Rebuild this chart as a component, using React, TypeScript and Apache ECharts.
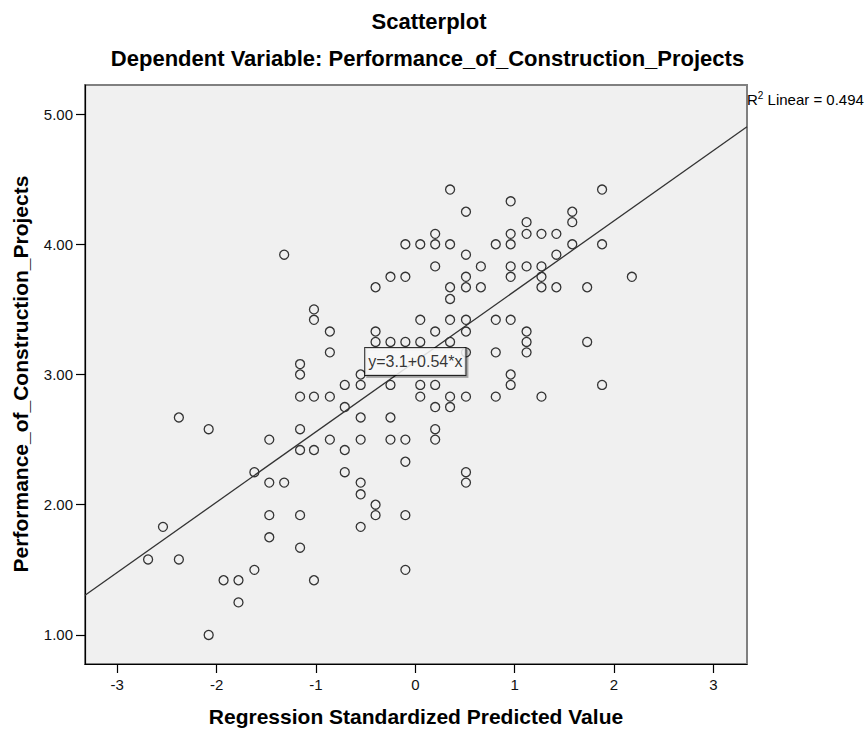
import React, { useEffect, useRef } from "react";
import * as echarts from "echarts";

// Regression standardized predicted value (x) and observed performance (y)
const predictedValue = [
  -2.69,
  -2.54,
  -2.38, -2.38,
  -2.08, -2.08,
  -1.93,
  -1.78, -1.78,
  -1.62, -1.62,
  -1.47, -1.47, -1.47, -1.47,
  -1.32, -1.32,
  -1.16, -1.16, -1.16, -1.16, -1.16, -1.16, -1.16,
  -1.02, -1.02, -1.02, -1.02, -1.02,
  -0.86, -0.86, -0.86, -0.86,
  -0.71, -0.71, -0.71, -0.71,
  -0.55, -0.55, -0.55, -0.55, -0.55, -0.55, -0.55,
  -0.40, -0.40, -0.40, -0.40, -0.40,
  -0.25, -0.25, -0.25, -0.25, -0.25,
  -0.10, -0.10, -0.10, -0.10, -0.10, -0.10, -0.10,
  0.05, 0.05, 0.05, 0.05, 0.05,
  0.20, 0.20, 0.20, 0.20, 0.20, 0.20, 0.20, 0.20,
  0.35, 0.35, 0.35, 0.35, 0.35, 0.35, 0.35, 0.35,
  0.51, 0.51, 0.51, 0.51, 0.51, 0.51, 0.51, 0.51, 0.51, 0.51,
  0.66, 0.66,
  0.81, 0.81, 0.81, 0.81,
  0.96, 0.96, 0.96, 0.96, 0.96, 0.96, 0.96, 0.96,
  1.12, 1.12, 1.12, 1.12, 1.12, 1.12,
  1.27, 1.27, 1.27, 1.27, 1.27,
  1.42, 1.42, 1.42,
  1.58, 1.58, 1.58,
  1.73, 1.73,
  1.88, 1.88, 1.88,
  2.18,
];

const performance = [
  1.58,
  1.83,
  2.67, 1.58,
  2.58, 1.0,
  1.42,
  1.42, 1.25,
  2.25, 1.5,
  2.5, 2.17, 1.92, 1.75,
  3.92, 2.17,
  3.08, 3.0, 2.83, 2.58, 2.42, 1.92, 1.67,
  3.5, 3.42, 2.83, 2.42, 1.42,
  3.33, 3.17, 2.83, 2.5,
  2.92, 2.75, 2.42, 2.25,
  3.0, 2.92, 2.67, 2.5, 2.17, 2.08, 1.83,
  3.67, 3.33, 3.25, 2.0, 1.92,
  3.75, 3.25, 2.92, 2.67, 2.5,
  4.0, 3.75, 3.25, 2.5, 2.33, 1.92, 1.5,
  4.0, 3.42, 3.25, 2.92, 2.83,
  4.08, 4.0, 3.83, 3.33, 2.92, 2.75, 2.58, 2.5,
  4.42, 4.0, 3.67, 3.58, 3.42, 3.25, 2.83, 2.75,
  4.25, 3.92, 3.75, 3.67, 3.42, 3.33, 3.17, 2.83, 2.25, 2.17,
  3.83, 3.67,
  4.0, 3.42, 3.17, 2.83,
  4.33, 4.08, 4.0, 3.83, 3.75, 3.42, 3.0, 2.92,
  4.17, 4.08, 3.83, 3.33, 3.25, 3.17,
  4.08, 3.83, 3.75, 3.67, 2.83,
  4.08, 3.92, 3.67,
  4.25, 4.17, 4.0,
  3.67, 3.25,
  4.42, 4.0, 2.92,
  3.75,
];

const xTicks = [-3, -2, -1, 0, 1, 2, 3];
const yTicks = [1, 2, 3, 4, 5];

const intercept = 3.1;
const slope = 0.54;
const rSquared = 0.494;

const xMin = -3.325;
const xMax = 3.339;
const yMin = 0.777;
const yMax = 5.223;

const FONT = '"Liberation Sans", Arial, Helvetica, sans-serif';

export default function App() {
  const ref = useRef<HTMLDivElement>(null);

  useEffect(() => {
    document.body.style.margin = "0";
    if (!ref.current) return;
    const chart = echarts.init(ref.current, undefined, { renderer: "svg" });

    const points = predictedValue.map((x, i) => [x, performance[i]]);
    const fitLine = [
      [xMin, intercept + slope * xMin],
      [xMax, intercept + slope * xMax],
    ];

    const option: any = {
      animation: false,
      textStyle: { fontFamily: FONT },
      grid: {
        left: 85,
        right: 121,
        top: 85,
        bottom: 71,
        show: true,
        backgroundColor: "#f0f0f0",
        borderColor: "#808080",
        borderWidth: 2,
      },
      xAxis: {
        type: "value",
        min: xMin,
        max: xMax,
        axisLine: { show: true, onZero: false, lineStyle: { color: "#000", width: 1.2 } },
        axisTick: {
          show: true,
          customValues: xTicks,
          length: 9,
          lineStyle: { color: "#000", width: 1.2 },
        },
        axisLabel: {
          customValues: xTicks,
          margin: 13,
          fontSize: 15,
          color: "#111",
          fontFamily: FONT,
          formatter: (v: number) => String(v),
        },
        splitLine: { show: false },
      },
      yAxis: {
        type: "value",
        min: yMin,
        max: yMax,
        axisLine: { show: true, onZero: false, lineStyle: { color: "#000", width: 1.2 } },
        axisTick: {
          show: true,
          customValues: yTicks,
          length: 9,
          lineStyle: { color: "#000", width: 1.2 },
        },
        axisLabel: {
          customValues: yTicks,
          margin: 12,
          fontSize: 15,
          color: "#111",
          fontFamily: FONT,
          formatter: (v: number) => v.toFixed(2),
        },
        splitLine: { show: false },
      },
      graphic: [
        {
          type: "text",
          x: 429,
          y: 21,
          style: {
            text: "Scatterplot",
            fontSize: 22,
            fontWeight: "bold",
            fontFamily: FONT,
            fill: "#000",
            align: "center",
            verticalAlign: "middle",
            textAlign: "center",
            textVerticalAlign: "middle",
          },
        },
        {
          type: "text",
          x: 427.5,
          y: 58,
          style: {
            text: "Dependent Variable: Performance_of_Construction_Projects",
            fontSize: 22,
            fontWeight: "bold",
            fontFamily: FONT,
            fill: "#000",
            align: "center",
            verticalAlign: "middle",
            textAlign: "center",
            textVerticalAlign: "middle",
          },
        },
        {
          type: "text",
          x: 416,
          y: 716,
          style: {
            text: "Regression Standardized Predicted Value",
            fontSize: 21,
            fontWeight: "bold",
            fontFamily: FONT,
            fill: "#000",
            align: "center",
            verticalAlign: "middle",
            textAlign: "center",
            textVerticalAlign: "middle",
          },
        },
        {
          type: "text",
          x: 20,
          y: 374,
          rotation: Math.PI / 2,
          style: {
            text: "Performance_of_Construction_Projects",
            fontSize: 21,
            fontWeight: "bold",
            fontFamily: FONT,
            fill: "#000",
            align: "center",
            verticalAlign: "middle",
            textAlign: "center",
            textVerticalAlign: "middle",
          },
        },
        {
          type: "text",
          x: 747,
          y: 99,
          style: {
            text: "{r|R}{s|2}{r| Linear = " + rSquared.toFixed(3) + "}",
            fontFamily: FONT,
            fill: "#000",
            align: "left",
            verticalAlign: "middle",
            textAlign: "left",
            textVerticalAlign: "middle",
            rich: {
              r: { fontSize: 15, lineHeight: 18, fontFamily: FONT, fill: "#000", color: "#000" },
              s: { fontSize: 10, lineHeight: 10, verticalAlign: "top", fontFamily: FONT, fill: "#000", color: "#000" },
            },
          },
        },
      ],
      series: [
        {
          type: "scatter",
          name: "Observed",
          data: points,
          symbol: "circle",
          symbolSize: 9,
          silent: true,
          itemStyle: { color: "rgba(0,0,0,0)", borderColor: "#333", borderWidth: 1.3, opacity: 1 },
          z: 2,
        },
        {
          type: "line",
          name: "Fit",
          data: fitLine,
          symbol: "none",
          silent: true,
          lineStyle: { color: "#333", width: 1.3 },
          z: 3,
        },
        {
          type: "scatter",
          name: "Equation",
          data: [[0, intercept]],
          symbolSize: 0.01,
          silent: true,
          z: 10,
          label: {
            show: true,
            position: "inside",
            formatter: `y=${intercept}+${slope}*x`,
            fontSize: 16,
            fontFamily: FONT,
            color: "#000",
            backgroundColor: "#fff",
            borderColor: "#000",
            borderWidth: 1,
            padding: [6, 3, 5, 3],
            shadowColor: "rgba(0,0,0,0.35)",
            shadowOffsetX: 2,
            shadowOffsetY: 2,
            shadowBlur: 0,
          },
        },
      ],
    };

    chart.setOption(option);
    return () => chart.dispose();
  }, []);

  return <div ref={ref} style={{ width: 868, height: 735 }} />;
}
